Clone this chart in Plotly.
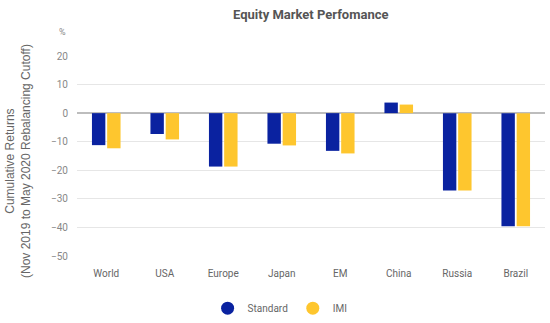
import plotly.graph_objects as go

categories = ["World", "USA", "Europe", "Japan", "EM", "China", "Russia", "Brazil"]
standard = [-11.2, -7.3, -18.7, -10.7, -13.2, 3.7, -27.1, -39.6]
imi = [-12.3, -9.2, -18.7, -11.3, -14.1, 3.0, -27.1, -39.6]
series_names = ["Standard", "IMI"]
colors = ["#0A22A0", "#FEC62E"]
y_ticks = [20, 10, 0, -10, -20, -30, -40, -50]

fig = go.Figure()
for name, vals, col in zip(series_names, [standard, imi], colors):
    fig.add_trace(go.Bar(x=categories, y=vals, name=name, marker_color=col,
                         marker_line_width=0, showlegend=False))
for name, col in zip(series_names, colors):
    fig.add_trace(go.Scatter(x=[None], y=[None], mode="markers", name=name,
                             marker=dict(symbol="circle", size=13, color=col)))

fig.update_layout(
    width=550, height=323,
    margin=dict(l=77, r=5, t=56, b=67, autoexpand=False),
    paper_bgcolor="white", plot_bgcolor="white",
    font=dict(family="Roboto", size=10, color="#666666"),
    title=dict(text="Equity Market Perfomance", x=0.565, xanchor="center", y=0.955, yanchor="middle",
               font=dict(family="Roboto", size=13, color="#555555", weight="bold")),
    barmode="group", bargap=0.48, bargroupgap=0.12,
    legend=dict(orientation="h", x=0.434, xanchor="center", yref="container", y=0.046,
                yanchor="middle", font=dict(size=10, color="#666666"), itemwidth=30,
                traceorder="normal"),
    showlegend=True,
)
fig.update_yaxes(range=[-50, 20], tickvals=y_ticks, showgrid=True, gridcolor="#e6e6e6",
                 zeroline=True, zerolinecolor="#bdbdbd", zerolinewidth=1.5,
                 ticks="", ticklabelstandoff=8, tickfont=dict(size=10, color="#888888"),
                 showline=False, automargin=False)
fig.update_xaxes(showgrid=False, showline=False, ticks="", tickfont=dict(size=10, color="#666666"),
                 ticklabelstandoff=10, automargin=False)
fig.add_annotation(text="%", xref="paper", yref="paper", x=-0.03, y=1.12, showarrow=False,
                   xanchor="center", yanchor="middle", font=dict(size=9, color="#888888"))
fig.add_annotation(text="Cumulative Returns<br>(Nov 2019 to May 2020 Rebalancing Cutoff)",
                   xref="paper", yref="paper", x=-0.126, y=0.475, showarrow=False,
                   textangle=-90, xanchor="center", yanchor="middle",
                   font=dict(family="Liberation Sans", size=12, color="#666666"))
fig.write_html("out.html")
